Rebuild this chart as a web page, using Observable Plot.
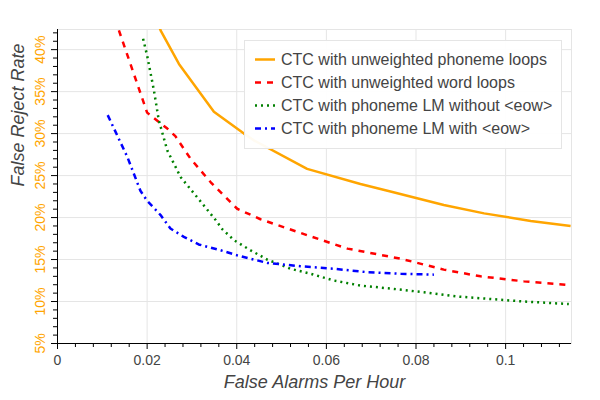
<!DOCTYPE html>
<html><head><meta charset="utf-8">
<script src="https://cdn.jsdelivr.net/npm/d3@7"></script>
<script src="https://cdn.jsdelivr.net/npm/@observablehq/plot@0.6"></script>
<style>body{margin:0;background:#fff}</style>
</head><body><div id="chart"></div>
<script>
// Tick positions and labels
const xTicks = [0, 0.02, 0.04, 0.06, 0.08, 0.1];
const xTickLabels = ["0", "0.02", "0.04", "0.06", "0.08", "0.1"];
const xMinorTicks = [0.004,0.008,0.012,0.016,0.024,0.028,0.032,0.036,0.044,0.048,0.052,0.056,0.064,0.068,0.072,0.076,0.084,0.088,0.092,0.096,0.104,0.108,0.112];
const yTicks = [5, 10, 15, 20, 25, 30, 35, 40];
const yTickLabels = ["5%", "10%", "15%", "20%", "25%", "30%", "35%", "40%"];
const yMinorTicks = [6,7,8,9,11,12,13,14,16,17,18,19,21,22,23,24,26,27,28,29,31,32,33,34,36,37,38,39,41,42];

// Series
const seriesNames = [
  "CTC with unweighted phoneme loops",
  "CTC with unweighted word loops",
  "CTC with phoneme LM without <eow>",
  "CTC with phoneme LM with <eow>"
];
const orangeX = [0.0215, 0.0230, 0.0271, 0.0349, 0.0416, 0.0438, 0.0557, 0.0676, 0.0743, 0.0862, 0.0952, 0.1056, 0.1145];
const orangeY = [44.5, 42.3, 38.3, 32.6, 30.0, 29.2, 25.8, 24.0, 23.1, 21.5, 20.5, 19.6, 19.0];
const redX = [0.0137, 0.0200, 0.0245, 0.0263, 0.0297, 0.0342, 0.0401, 0.0453, 0.0557, 0.0647, 0.0766, 0.0862, 0.0944, 0.1041, 0.1134];
const redY = [42.3, 32.5, 30.6, 29.7, 27.0, 24.2, 21.05, 19.8, 17.9, 16.3, 15.1, 13.8, 13.0, 12.4, 12.0];
const greenX = [0.0191, 0.0200, 0.0215, 0.0226, 0.0245, 0.0275, 0.0315, 0.0353, 0.0368, 0.0394, 0.0431, 0.0468, 0.0520, 0.0565, 0.0617, 0.0676, 0.0751, 0.0818, 0.0892, 0.0967, 0.1041, 0.1141];
const greenY = [41.3, 39.3, 35.2, 31.6, 28.0, 24.8, 22.2, 19.7, 18.6, 17.3, 16.1, 15.0, 13.9, 13.3, 12.5, 11.9, 11.5, 11.1, 10.6, 10.3, 10.0, 9.7];
const blueX = [0.0112, 0.0156, 0.0185, 0.0200, 0.0230, 0.0252, 0.0282, 0.0315, 0.0364, 0.0401, 0.0468, 0.0542, 0.0617, 0.0691, 0.0766, 0.0840];
const blueY = [32.2, 27.2, 23.2, 22.0, 20.3, 18.7, 17.7, 16.8, 16.1, 15.5, 14.6, 14.2, 13.9, 13.5, 13.3, 13.2];

const colors = ["#FFA500", "#FF0000", "#008000", "#0000FF"];
const dashes = ["none", "6,6", "2,4", "6,4,2,4"];

const toRows = (xs, ys) => xs.map((x, i) => ({x, y: ys[i]}));
const series = [toRows(orangeX, orangeY), toRows(redX, redY), toRows(greenX, greenY), toRows(blueX, blueY)];

const grid = "#e5e5e5";
const textCol = "#444";

const chart = Plot.plot({
  width: 600,
  height: 400,
  marginLeft: 57,
  marginRight: 29,
  marginTop: 29,
  marginBottom: 57,
  style: {fontFamily: "'Liberation Sans', Arial, Helvetica, sans-serif", fontSize: "14px", background: "white"},
  x: {domain: [0, 0.1147], axis: null},
  y: {domain: [5, 42.4], axis: null},
  marks: [
    Plot.frame({stroke: grid}),
    Plot.ruleX(xTicks, {stroke: grid}),
    Plot.ruleY(yTicks, {stroke: grid}),
    ...series.map((s, i) => Plot.line(s, {
      x: "x", y: "y", stroke: colors[i], strokeWidth: 2.5,
      strokeDasharray: dashes[i], strokeLinecap: "butt", strokeLinejoin: "miter", clip: true
    })),
    Plot.axisX(xTicks, {tickSize: 6, tickPadding: 6, fontSize: 14, stroke: "black", fill: textCol, label: null,
      tickFormat: d => xTickLabels[xTicks.indexOf(d)]}),
    Plot.axisX(xMinorTicks, {tickSize: 4, stroke: "black", tickFormat: () => "", label: null}),
    Plot.axisY(yTicks, {tickSize: 6, stroke: "black", tickFormat: () => "", label: null}),
    Plot.axisY(yMinorTicks, {tickSize: 4, stroke: "black", tickFormat: () => "", label: null}),
    Plot.text(yTicks, {y: d => d, text: (d, i) => yTickLabels[i], frameAnchor: "left", dx: -16.5,
      rotate: -90, textAnchor: "middle", fill: "#FFA500", fontSize: 14}),
    Plot.ruleX([0], {stroke: "black"}),
    Plot.ruleY([5], {stroke: "black"}),
    Plot.text(["False Alarms Per Hour"], {text: d => d, frameAnchor: "bottom", dy: 44, fontSize: 18,
      fontStyle: "italic", fill: textCol}),
    Plot.text(["False Reject Rate"], {text: d => d, frameAnchor: "left", dx: -39, rotate: -90,
      fontSize: 18, fontStyle: "italic", fill: textCol})
  ]
});
document.getElementById("chart").appendChild(chart);

// Legend (top right, Bokeh style)
const svg = d3.select(chart);
const lg = svg.append("g").attr("text-anchor", "start");
lg.append("rect").attr("x", 244.5).attr("y", 40.5).attr("width", 317).attr("height", 108)
  .style("fill", "#fff").style("fill-opacity", 0.95).style("stroke", grid);
seriesNames.forEach((name, i) => {
  const cy = 59.5 + i * 23;
  lg.append("line").attr("x1", 255).attr("x2", 275).attr("y1", cy).attr("y2", cy)
    .style("stroke", colors[i]).style("stroke-width", 2.5)
    .style("stroke-dasharray", dashes[i]);
  lg.append("text").attr("x", 281).attr("y", cy).attr("dy", "0.35em")
    .attr("text-anchor", "start")
    .style("font-size", "16px").style("fill", textCol).text(name);
});
</script></body></html>
